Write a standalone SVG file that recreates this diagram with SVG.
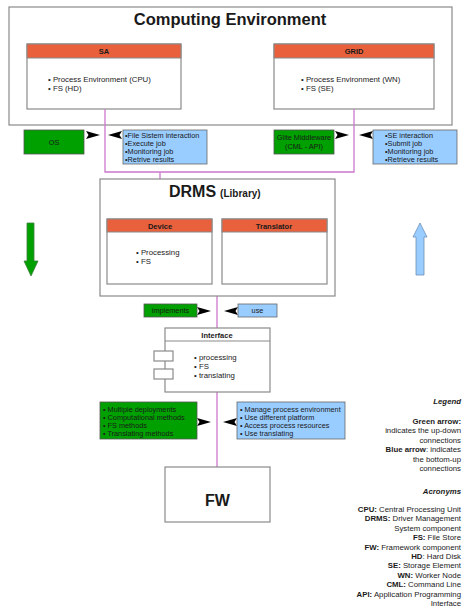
<svg xmlns="http://www.w3.org/2000/svg" xmlns:xlink="http://www.w3.org/1999/xlink" width="463" height="608" viewBox="0 0 463 608">
<style>
text{font-family:"Liberation Sans",Arial,sans-serif;fill:#1a1a1a}
.box{fill:#fff;stroke:#8a8a8a;stroke-width:1.2}
.hdr{fill:#e8603c;stroke:#8a8a8a;stroke-width:1}
.ht{font-size:7.5px;font-weight:bold;text-anchor:middle}
.bl{font-size:7.8px}
.sm{font-size:7.3px}
.grn{fill:#00a000;stroke:#555;stroke-width:0.8}
.blu{fill:#99ccff;stroke:#666;stroke-width:0.8}
.ln{fill:none;stroke:#cc77cc;stroke-width:1.3}
.ar{fill:#000}
.lg{font-size:7.8px;text-anchor:end}
.b{font-weight:bold}
</style>
<defs>
<path id="arR" d="M0,-4 L14,0 L0,4 L2.5,0 Z"/>
<path id="arL" d="M0,-4 L-14,0 L0,4 L-2.5,0 Z"/>
</defs>

<g id="computing-environment">
<rect class="box" x="9" y="7" width="443" height="118" stroke="#999"/>
<text x="230" y="25" font-size="16.5" font-weight="bold" text-anchor="middle">Computing Environment</text>
</g>

<g id="sa">
<rect class="box" x="27" y="44" width="154" height="65"/>
<rect class="hdr" x="27" y="44" width="154" height="14"/>
<text class="ht" x="104" y="54">SA</text>
<text class="bl" x="48" y="81.5">• Process Environment (CPU)</text>
<text class="bl" x="48" y="90.5">• FS (HD)</text>
</g>

<g id="grid">
<rect class="box" x="274" y="44" width="160" height="65"/>
<rect class="hdr" x="274" y="44" width="160" height="14"/>
<text class="ht" x="354" y="54">GRID</text>
<text class="bl" x="301" y="81.5">• Process Environment (WN)</text>
<text class="bl" x="301" y="90.5">• FS (SE)</text>
</g>

<g id="connectors">
<polyline class="ln" points="105,109 105,172 354,172 354,109"/>
<line class="ln" x1="160" y1="172" x2="160" y2="219"/>
<line class="ln" x1="217" y1="296" x2="217" y2="328"/>
<line class="ln" x1="217" y1="392" x2="217" y2="467"/>
<use class="ar" xlink:href="#arR" x="86" y="135"/>
<use class="ar" xlink:href="#arL" x="122" y="135"/>
<use class="ar" xlink:href="#arR" x="335" y="135"/>
<use class="ar" xlink:href="#arL" x="373" y="135"/>
<use class="ar" xlink:href="#arR" x="197" y="311"/>
<use class="ar" xlink:href="#arL" x="238" y="311"/>
<use class="ar" xlink:href="#arR" x="197" y="422"/>
<use class="ar" xlink:href="#arL" x="237" y="422"/>
</g>

<g id="os">
<rect class="grn" x="24" y="130" width="60" height="24"/>
<text class="sm" x="54" y="144.5" text-anchor="middle">OS</text>
</g>

<g id="sa-ops">
<rect class="blu" x="123" y="130" width="84" height="34"/>
<text class="sm" x="125" y="137.5">•File Sistem interaction</text>
<text class="sm" x="125" y="145.5">•Execute job</text>
<text class="sm" x="125" y="153.5">•Monitoring job</text>
<text class="sm" x="125" y="161.5">•Retrive results</text>
</g>

<g id="glite">
<rect class="grn" x="274" y="130" width="60" height="24"/>
<text class="sm" x="304" y="139.5" text-anchor="middle" font-size="7">Glite Middleware</text>
<text class="sm" x="304" y="148.5" text-anchor="middle" font-size="7">(CML - API)</text>
</g>

<g id="grid-ops">
<rect class="blu" x="373" y="130" width="84" height="34"/>
<text class="sm" x="385" y="137.5">•SE interaction</text>
<text class="sm" x="385" y="145.5">•Submit job</text>
<text class="sm" x="385" y="153.5">•Monitoring job</text>
<text class="sm" x="385" y="161.5">•Retrieve results</text>
</g>

<g id="drms">
<rect class="box" x="100" y="179" width="235" height="117"/>
<text x="169" y="197" font-size="16" font-weight="bold">DRMS<tspan font-size="10" dx="4">(Library)</tspan></text>
</g>

<g id="device">
<rect class="box" x="107" y="219" width="105" height="65"/>
<rect class="hdr" x="107" y="219" width="105" height="13"/>
<text class="ht" x="160" y="228.5">Device</text>
<text class="bl" x="136" y="255">• Processing</text>
<text class="bl" x="136" y="264">• FS</text>
</g>

<g id="translator">
<rect class="box" x="222" y="219" width="105" height="65"/>
<rect class="hdr" x="222" y="219" width="105" height="13"/>
<text class="ht" x="274" y="228.5">Translator</text>
</g>

<g id="implements">
<rect class="grn" x="144" y="304" width="53" height="13"/>
<text class="sm" x="170.5" y="313" text-anchor="middle">implements</text>
</g>

<g id="use">
<rect class="blu" x="238" y="304" width="39" height="13"/>
<text class="sm" x="257.5" y="313" text-anchor="middle">use</text>
</g>

<g id="interface">
<rect class="box" x="165" y="328" width="105" height="64"/>
<line x1="165" y1="341" x2="270" y2="341" stroke="#8a8a8a" stroke-width="1.2"/>
<text class="ht" x="217" y="337.5" font-size="8">Interface</text>
<rect class="box" x="154" y="351" width="19" height="10"/>
<rect class="box" x="154" y="369" width="19" height="10"/>
<text class="bl" x="194" y="359.5">• processing</text>
<text class="bl" x="194" y="368.5">• FS</text>
<text class="bl" x="194" y="377.5">• translating</text>
</g>

<g id="implements-list">
<rect class="grn" x="100" y="402" width="97" height="37"/>
<text class="sm" x="103" y="412">• Multiple deployments</text>
<text class="sm" x="103" y="420">• Computational methods</text>
<text class="sm" x="103" y="428">• FS methods</text>
<text class="sm" x="103" y="436">• Translating methods</text>
</g>

<g id="use-list">
<rect class="blu" x="237" y="402" width="108" height="37"/>
<text class="sm" x="240" y="412">• Manage process environment</text>
<text class="sm" x="240" y="420">• Use different platform</text>
<text class="sm" x="240" y="428">• Access process resources</text>
<text class="sm" x="240" y="436">• Use translating</text>
</g>

<g id="fw">
<rect class="box" x="165" y="467" width="105" height="55"/>
<text x="217.5" y="506" font-size="16" font-weight="bold" text-anchor="middle">FW</text>
</g>

<g id="green-arrow">
<path d="M27,223 L34,223 L34,261 L38,261 L31,276 L24,261 L27,261 Z" fill="#00a000" stroke="#3d7d3d" stroke-width="0.8"/>
</g>

<g id="blue-arrow">
<path d="M416,275 L424,275 L424,237 L427,237 L420,223 L413,237 L416,237 Z" fill="#99ccff" stroke="#6d8fb5" stroke-width="0.8"/>
</g>

<g id="legend">
<text class="lg b" x="461" y="403.5" font-style="italic" font-size="8.5">Legend</text>
<text class="lg b" x="461" y="423.5">Green arrow:</text>
<text class="lg" x="461" y="433">indicates the up-down</text>
<text class="lg" x="461" y="442.5">connections</text>
<text class="lg" x="461" y="452"><tspan class="b">Blue arrow</tspan>: indicates</text>
<text class="lg" x="461" y="461.5">the bottom-up</text>
<text class="lg" x="461" y="471">connections</text>
<text class="lg b" x="461" y="493.5" font-style="italic" font-size="8.5">Acronyms</text>
<text class="lg" x="461" y="512"><tspan class="b">CPU:</tspan> Central Processing Unit</text>
<text class="lg" x="461" y="521.4"><tspan class="b">DRMS:</tspan> Driver Management</text>
<text class="lg" x="461" y="530.8">System component</text>
<text class="lg" x="461" y="540.2"><tspan class="b">FS:</tspan> File Store</text>
<text class="lg" x="461" y="549.6"><tspan class="b">FW:</tspan> Framework component</text>
<text class="lg" x="461" y="559"><tspan class="b">HD</tspan>: Hard Disk</text>
<text class="lg" x="461" y="568.4"><tspan class="b">SE:</tspan> Storage Element</text>
<text class="lg" x="461" y="577.8"><tspan class="b">WN:</tspan> Worker Node</text>
<text class="lg" x="461" y="587.2"><tspan class="b">CML:</tspan> Command Line</text>
<text class="lg" x="461" y="596.6"><tspan class="b">API:</tspan> Application Programming</text>
<text class="lg" x="461" y="606">Interface</text>
</g>
</svg>
